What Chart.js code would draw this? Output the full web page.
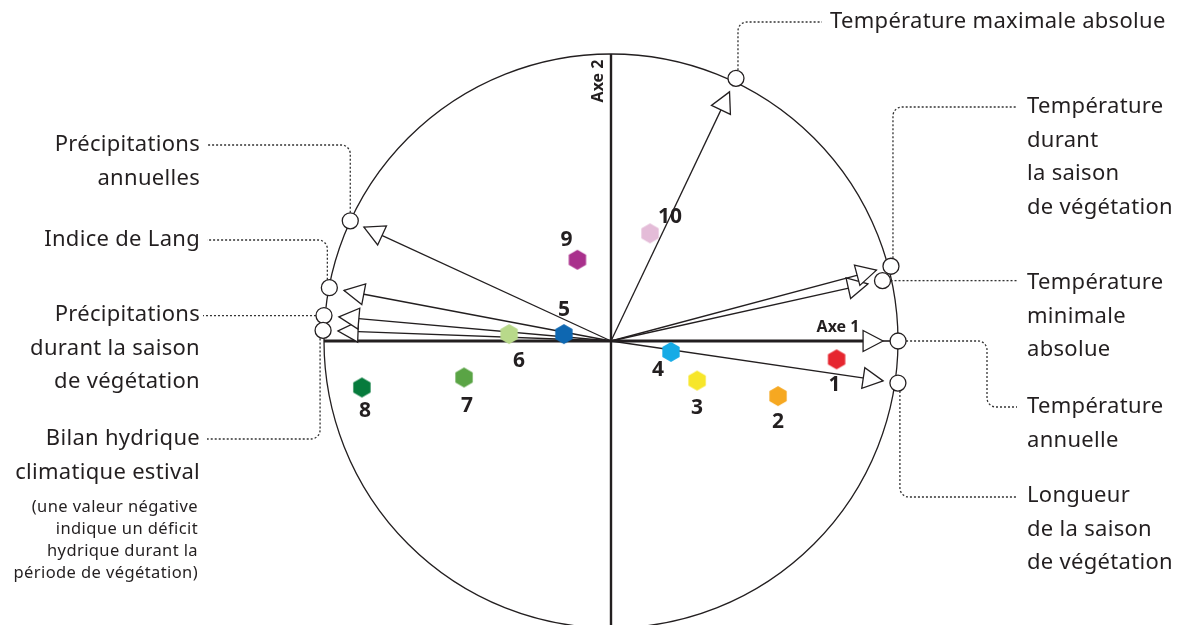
<!DOCTYPE html>
<html lang="fr">
<head>
<meta charset="utf-8">
<title>Cercle des corrélations</title>
<script src="https://cdn.jsdelivr.net/npm/chart.js@4.4.1/dist/chart.umd.min.js"></script>
<style>
  html, body { margin: 0; padding: 0; background: #ffffff; }
  #wrap { width: 1177px; height: 625px; position: relative; }
</style>
</head>
<body>
<div id="wrap"><canvas id="chart"></canvas></div>
<script>
// Stations projected on the first factorial plane
const stationLabels = ['1', '2', '3', '4', '5', '6', '7', '8', '9', '10'];
const stationAxe1 = [0.786, 0.582, 0.300, 0.209, -0.164, -0.355, -0.512, -0.868, -0.117, 0.136];
const stationAxe2 = [-0.064, -0.192, -0.138, -0.038, 0.024, 0.024, -0.127, -0.162, 0.283, 0.375];
const stationColors = ['#e6262f', '#f6a821', '#f7e62a', '#16abe6', '#0e67b1', '#b8d98a', '#5aa445', '#067b3c', '#a9308c', '#e4bcd8'];

// Climatic variables: loadings on axes 1 and 2 (arrow tips)
const variableLines = [
  ['Température maximale absolue'],
  ['Température', 'durant', 'la saison', 'de végétation'],
  ['Température', 'minimale', 'absolue'],
  ['Température', 'annuelle'],
  ['Longueur', 'de la saison', 'de végétation'],
  ['Précipitations', 'annuelles'],
  ['Indice de Lang'],
  ['Précipitations', 'durant la saison', 'de végétation'],
  ['Bilan hydrique', 'climatique estival']
];
const loadingAxe1 = [0.413, 0.925, 0.895, 0.948, 0.948, -0.861, -0.930, -0.948, -0.951];
const loadingAxe2 = [0.868, 0.247, 0.199, 0.000, -0.139, 0.397, 0.176, 0.084, 0.035];

const axisTitles = ['Axe 1', 'Axe 2'];
const noteLines = ['(une valeur négative', 'indique un déficit', 'hydrique durant la', 'période de végétation)'];

// ---- presentation ----
const INK = '#231f20';
const FONT = '"Noto Sans", "Open Sans", sans-serif';
const PX_PER_UNIT = 287;            // radius of the unit circle in pixels
const ORIGIN = { x: 611, y: 341 };  // where (0,0) sits on the canvas
const CANVAS_W = 1177, CANVAS_H = 625;
const MARKER_GAP = 15;              // pixels between arrow tip and its label marker

// Number label offsets (pixels) relative to each hexagon
const stationLabelOffset = [[-2, 26], [0, 26], [0, 27], [-13, 18], [0, -24], [10, 27], [3, 29], [3, 24], [-11, -20], [20, -16]];

// Label anchors and leader-line routes (m = marker centre in pixels)
const labelLayout = [
  { x: 830, y: 22, align: 'left', route: m => [[m.x + 2, m.y], [m.x + 2, 22], [822, 22]] },
  { x: 1027, y: 107, align: 'left', route: m => [[m.x + 2, m.y], [m.x + 2, 107], [1017, 107]] },
  { x: 1027, y: 283, align: 'left', route: m => [[m.x, m.y], [1017, m.y]] },
  { x: 1027, y: 407, align: 'left', route: m => [[m.x, m.y], [987, m.y], [987, 407], [1017, 407]] },
  { x: 1027, y: 496, align: 'left', route: m => [[m.x + 2, m.y], [m.x + 2, 497], [1017, 497]] },
  { x: 200, y: 145, align: 'right', route: m => [[m.x, m.y], [m.x, 145], [207, 145]] },
  { x: 200, y: 240, align: 'right', route: m => [[m.x - 2, m.y], [m.x - 2, 240], [207, 240]] },
  { x: 200, y: 315, align: 'right', route: m => [[m.x, m.y], [203, m.y]] },
  { x: 200, y: 439, align: 'right', route: m => [[m.x - 3, m.y], [m.x - 3, 439], [207, 439]] }
];
const LINE_STEP = 33.5;

function hexagon(color) {
  const c = document.createElement('canvas');
  c.width = 22; c.height = 22;
  const g = c.getContext('2d');
  g.beginPath();
  for (let i = 0; i < 6; i++) {
    const a = Math.PI / 180 * (60 * i - 90);
    g.lineTo(11 + 10 * Math.cos(a), 11 + 10 * Math.sin(a));
  }
  g.closePath();
  g.fillStyle = color;
  g.fill();
  return c;
}

const stationPoints = stationLabels.map((_, i) => ({ x: stationAxe1[i], y: stationAxe2[i] }));
const gapUnits = MARKER_GAP / PX_PER_UNIT;
const markerPoints = loadingAxe1.map((x, i) => {
  const y = loadingAxe2[i];
  const len = Math.hypot(x, y);
  const k = (len + gapUnits) / len;
  return { x: x * k, y: y * k };
});

const datasets = [
  {
    label: 'stations', type: 'scatter', data: stationPoints,
    pointStyle: stationColors.map(hexagon), pointRadius: 10, pointHoverRadius: 10
  },
  {
    label: 'markers', type: 'scatter', data: markerPoints,
    pointStyle: 'circle', pointRadius: 8, pointHoverRadius: 8,
    pointBackgroundColor: '#ffffff', pointBorderColor: INK, pointBorderWidth: 1.3
  }
];
loadingAxe1.forEach((x, i) => {
  datasets.push({
    label: 'arrow' + i, type: 'line', isArrow: true,
    data: [{ x: 0, y: 0 }, { x: x, y: loadingAxe2[i] }],
    borderColor: INK, borderWidth: 1.3, pointRadius: 0, fill: false, tension: 0
  });
});

function arrowHead(ctx, ox, oy, tx, ty) {
  const d = Math.hypot(tx - ox, ty - oy);
  const ux = (tx - ox) / d, uy = (ty - oy) / d;
  const bx = tx - 20 * ux, by = ty - 20 * uy;
  const nx = -uy, ny = ux;
  ctx.beginPath();
  ctx.moveTo(tx, ty);
  ctx.lineTo(bx + 10.5 * nx, by + 10.5 * ny);
  ctx.lineTo(bx - 10.5 * nx, by - 10.5 * ny);
  ctx.closePath();
  ctx.fillStyle = '#ffffff';
  ctx.fill();
  ctx.lineWidth = 1.3;
  ctx.strokeStyle = INK;
  ctx.lineJoin = 'miter';
  ctx.stroke();
}

const circlePlot = {
  id: 'circlePlot',
  beforeDatasetsDraw(chart) {
    const { ctx, scales: { x, y } } = chart;
    const cx = x.getPixelForValue(0), cy = y.getPixelForValue(0);
    const r = x.getPixelForValue(1) - cx;
    ctx.save();
    // leader lines
    ctx.setLineDash([2, 2]);
    ctx.lineWidth = 1.3;
    ctx.strokeStyle = '#333333';
    labelLayout.forEach((lay, i) => {
      const m = { x: x.getPixelForValue(markerPoints[i].x), y: y.getPixelForValue(markerPoints[i].y) };
      const pts = lay.route(m);
      ctx.beginPath();
      ctx.moveTo(pts[0][0], pts[0][1]);
      for (let k = 1; k < pts.length - 1; k++) {
        ctx.arcTo(pts[k][0], pts[k][1], pts[k + 1][0], pts[k + 1][1], 9);
      }
      ctx.lineTo(pts[pts.length - 1][0], pts[pts.length - 1][1]);
      ctx.stroke();
    });
    ctx.setLineDash([]);
    // unit circle
    ctx.beginPath();
    ctx.arc(cx, cy, r, 0, Math.PI * 2);
    ctx.lineWidth = 1.3;
    ctx.strokeStyle = INK;
    ctx.stroke();
    // axis 2 (vertical)
    ctx.beginPath();
    ctx.moveTo(cx, y.getPixelForValue(1));
    ctx.lineTo(cx, y.getPixelForValue(-1));
    ctx.lineWidth = 2.4;
    ctx.stroke();
    // axis 1 (horizontal) up to the arrowhead, then thin link to the marker
    const tip = x.getPixelForValue(loadingAxe1[3]);
    ctx.beginPath();
    ctx.moveTo(x.getPixelForValue(-1), cy);
    ctx.lineTo(tip - 18, cy);
    ctx.lineWidth = 3;
    ctx.stroke();
    ctx.beginPath();
    ctx.moveTo(tip, cy);
    ctx.lineTo(x.getPixelForValue(markerPoints[3].x), cy);
    ctx.lineWidth = 1.6;
    ctx.stroke();
    ctx.restore();
  },
  afterDatasetDraw(chart, args) {
    const ds = chart.data.datasets[args.index];
    if (!ds.isArrow) return;
    const { ctx, scales: { x, y } } = chart;
    ctx.save();
    arrowHead(ctx, x.getPixelForValue(0), y.getPixelForValue(0),
      x.getPixelForValue(ds.data[1].x), y.getPixelForValue(ds.data[1].y));
    ctx.restore();
  },
  afterDraw(chart) {
    const { ctx, scales: { x, y } } = chart;
    ctx.save();
    ctx.fillStyle = INK;
    ctx.textBaseline = 'middle';
    // variable labels
    ctx.font = '400 22px ' + FONT;
    ctx.letterSpacing = '0.3px';
    labelLayout.forEach((lay, i) => {
      ctx.textAlign = lay.align;
      variableLines[i].forEach((line, k) => ctx.fillText(line, lay.x, lay.y + k * LINE_STEP));
    });
    // note under the water balance label
    ctx.font = '400 16.5px ' + FONT;
    ctx.letterSpacing = '0.4px';
    ctx.textAlign = 'right';
    noteLines.forEach((line, k) => ctx.fillText(line, 198, 507 + k * 22));
    ctx.letterSpacing = '0px';
    // station numbers
    ctx.font = 'bold 21px ' + FONT;
    ctx.textAlign = 'center';
    stationLabels.forEach((lab, i) => {
      const px = x.getPixelForValue(stationAxe1[i]) + stationLabelOffset[i][0];
      const py = y.getPixelForValue(stationAxe2[i]) + stationLabelOffset[i][1];
      ctx.fillText(lab, px, py);
    });
    // axis titles
    ctx.font = 'bold 16px ' + FONT;
    ctx.fillText(axisTitles[0], 838, 327);
    ctx.translate(598, 81);
    ctx.rotate(-Math.PI / 2);
    ctx.fillText(axisTitles[1], 0, 0);
    ctx.restore();
  }
};

new Chart(document.getElementById('chart'), {
  type: 'scatter',
  data: { datasets },
  options: {
    responsive: true,
    maintainAspectRatio: false,
    animation: false,
    events: [],
    layout: { padding: 0, autoPadding: false },
    plugins: { legend: { display: false }, tooltip: { enabled: false } },
    scales: {
      x: { type: 'linear', display: false, min: -ORIGIN.x / PX_PER_UNIT, max: (CANVAS_W - ORIGIN.x) / PX_PER_UNIT },
      y: { type: 'linear', display: false, min: -(CANVAS_H - ORIGIN.y) / PX_PER_UNIT, max: ORIGIN.y / PX_PER_UNIT }
    }
  },
  plugins: [circlePlot]
});
</script>
</body>
</html>
